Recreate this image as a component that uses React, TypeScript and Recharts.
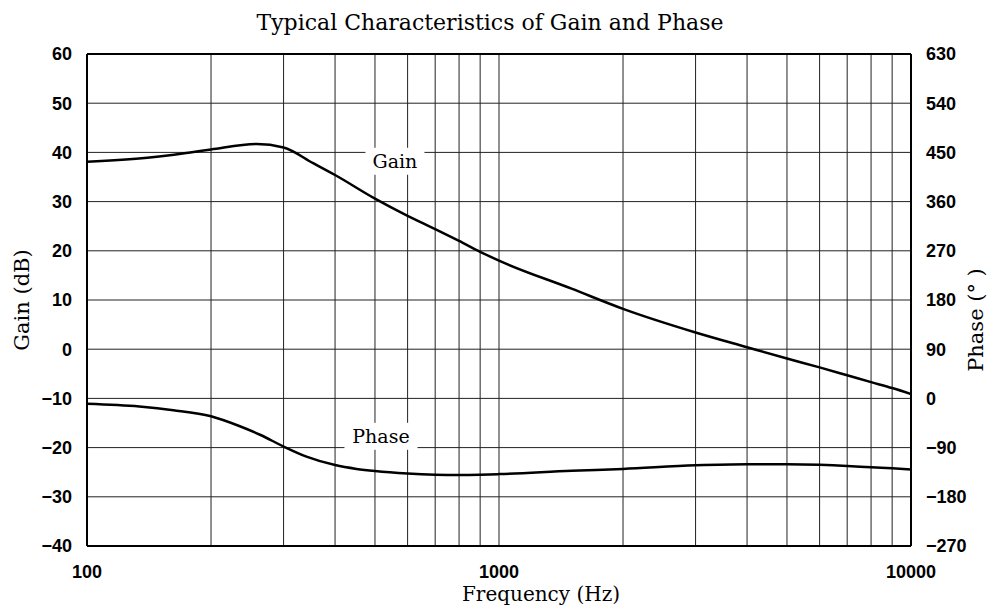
import React from "react";
import {
  ComposedChart,
  Line,
  XAxis,
  YAxis,
  ReferenceLine,
  ReferenceDot,
} from "recharts";

// gain curve (Hz -> dB)
const gainFreq = [100, 140, 178, 200, 258, 300, 354, 400, 500, 600, 700, 800, 900, 1000, 1500, 2000, 3000, 4000, 5000, 6000, 7000, 8000, 9000, 10000];
const gainDb = [38.1, 38.9, 40.0, 40.6, 41.7, 41.0, 37.8, 35.4, 30.6, 27.1, 24.4, 22.0, 19.8, 18.0, 12.3, 8.2, 3.4, 0.4, -1.9, -3.7, -5.3, -6.7, -7.9, -9.1];

// phase curve (Hz -> degrees)
const phaseFreq = [100, 134, 162, 200, 235, 263, 300, 341, 400, 451, 500, 600, 700, 800, 900, 1000, 1500, 2000, 3000, 4000, 5000, 6000, 7000, 8000, 9000, 10000];
const phaseDeg = [-10, -15, -21.6, -32.7, -51, -66.5, -88, -106.6, -122, -129, -133, -137.5, -139.5, -140, -139.5, -138.5, -132.5, -129, -122.5, -120.5, -120.5, -121.5, -123.5, -126, -128, -130];

const freqTicks = [100, 1000, 10000];
const freqGrid = [200, 300, 400, 500, 600, 700, 800, 900, 1000, 2000, 3000, 4000, 5000, 6000, 7000, 8000, 9000];
const gainTicks = [-40, -30, -20, -10, 0, 10, 20, 30, 40, 50, 60];
const phaseTicks = [-270, -180, -90, 0, 90, 180, 270, 360, 450, 540, 630];

const gainData = gainFreq.map((f, i) => ({ f, v: gainDb[i] }));
const phaseData = phaseFreq.map((f, i) => ({ f, v: phaseDeg[i] }));

const SERIF = "'DejaVu Serif', serif";
const SANS = "'Liberation Sans', Arial, sans-serif";
const tickStyle = { fontSize: 18, fontWeight: 700, fontFamily: SANS, fill: "#000" };

const fmtMinus = (v: number) => String(v).replace("-", "\u2212");

// label with white box behind it, sitting on the grid
function boxedLabel(text: string, w: number) {
  return (props: any) => {
    const { cx, cy } = props;
    return (
      <g>
        <rect x={cx - w / 2} y={cy - 13} width={w} height={27} fill="#fff" />
        <text x={cx} y={cy} textAnchor="middle" dominantBaseline="central"
          fontFamily={SERIF} fontSize={19} fill="#000">
          {text}
        </text>
      </g>
    );
  };
}

export default function App() {
  return (
    <div style={{ width: 992, height: 607, background: "#fff" }}>
      <style>{"body{margin:0}"}</style>
      <ComposedChart width={992} height={607} margin={{ top: 54, right: 0, bottom: 0, left: 0 }}>
        <XAxis
          dataKey="f"
          type="number"
          scale="log"
          domain={[100, 10000]}
          ticks={freqTicks}
          allowDataOverflow
          tick={tickStyle}
          tickLine={false}
          tickSize={0}
          tickMargin={19}
          axisLine={{ stroke: "#000", strokeWidth: 2 }}
          height={61}
        />
        <YAxis
          yAxisId="left"
          domain={[-40, 60]}
          ticks={gainTicks}
          tickFormatter={fmtMinus}
          tick={tickStyle}
          tickLine={false}
          tickSize={0}
          tickMargin={15}
          axisLine={{ stroke: "#000", strokeWidth: 2 }}
          width={87}
        />
        <YAxis
          yAxisId="right"
          orientation="right"
          domain={[-270, 630]}
          ticks={phaseTicks}
          tickFormatter={fmtMinus}
          tick={{ ...tickStyle, textAnchor: "start" }}
          tickLine={false}
          tickSize={0}
          tickMargin={15}
          axisLine={{ stroke: "#000", strokeWidth: 2 }}
          width={81}
        />

        {/* grid */}
        {gainTicks.slice(1, -1).map((g) => (
          <ReferenceLine key={"h" + g} yAxisId="left" y={g} stroke="#222" strokeWidth={1} />
        ))}
        {freqGrid.map((f) => (
          <ReferenceLine key={"v" + f} yAxisId="left" x={f} stroke="#222" strokeWidth={1} />
        ))}
        <ReferenceLine yAxisId="left" y={60} stroke="#000" strokeWidth={2} />

        <Line
          yAxisId="left"
          data={gainData}
          dataKey="v"
          type="monotone"
          stroke="#000"
          strokeWidth={2.5}
          dot={false}
          isAnimationActive={false}
        />
        <Line
          yAxisId="right"
          data={phaseData}
          dataKey="v"
          type="monotone"
          stroke="#000"
          strokeWidth={2.5}
          dot={false}
          isAnimationActive={false}
        />

        <ReferenceDot yAxisId="left" x={559} y={38.3} r={0} shape={boxedLabel("Gain", 59)} />
        <ReferenceDot yAxisId="left" x={517} y={-17.6} r={0} shape={boxedLabel("Phase", 73)} />

        <text x={490} y={22} textAnchor="middle" dominantBaseline="central"
          fontFamily={SERIF} fontSize={22} fill="#000">
          Typical Characteristics of Gain and Phase
        </text>
        <text x={541} y={594} textAnchor="middle" dominantBaseline="central"
          fontFamily={SERIF} fontSize={20} fill="#000">
          Frequency (Hz)
        </text>
        <text x={22} y={300} textAnchor="middle" dominantBaseline="central"
          transform="rotate(-90 22 300)" fontFamily={SERIF} fontSize={21} fill="#000">
          Gain (dB)
        </text>
        <text x={976} y={320} textAnchor="middle" dominantBaseline="central"
          transform="rotate(-90 976 320)" fontFamily={SERIF} fontSize={21} fill="#000">
          Phase (° )
        </text>
      </ComposedChart>
    </div>
  );
}
